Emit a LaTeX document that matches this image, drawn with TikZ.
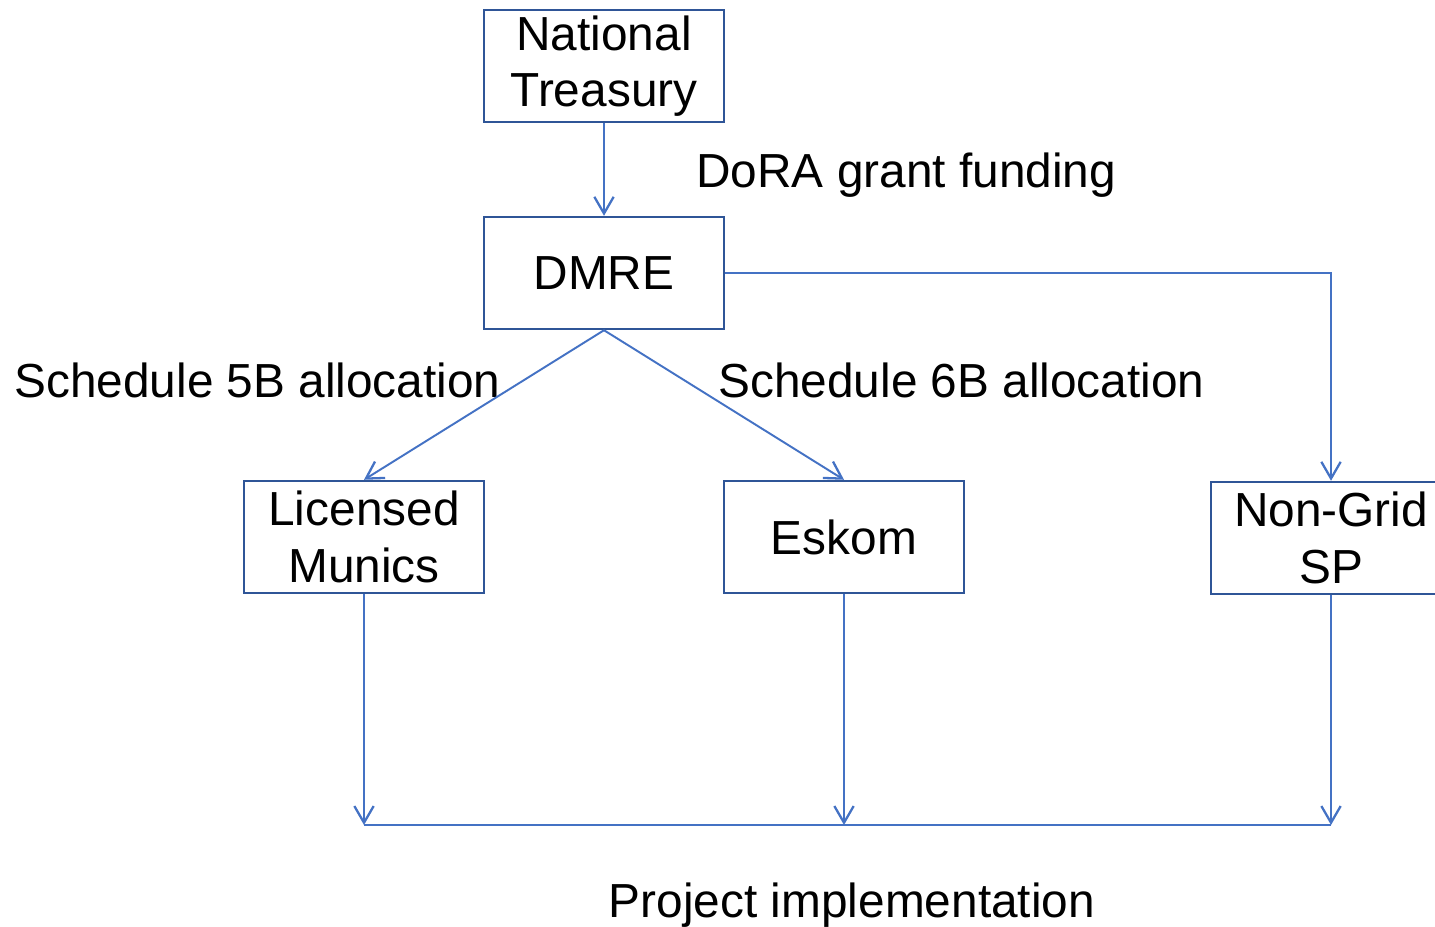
\documentclass[tikz,border=0pt]{standalone}
\usepackage{fontspec}
\setmainfont{Liberation Sans}
\usetikzlibrary{arrows.meta,positioning,calc}
\definecolor{boxblue}{HTML}{2F5597}
\definecolor{lineblue}{HTML}{4472C4}

\begin{document}
\begin{tikzpicture}[x=0.02cm,y=-0.02cm,
  box/.style={draw=boxblue,line width=1.4pt,minimum width=4.8cm,minimum height=2.24cm,inner sep=0pt,align=center,font=\fontsize{27.2}{32}\selectfont},
  lab/.style={inner sep=0pt,font=\fontsize{27.2}{32}\selectfont},
  flow/.style={draw=lineblue,line width=1.1pt,-{Straight Barb[length=9.5pt,width=11pt,line width=1.3pt]}}]
\useasboundingbox (0,0) rectangle (1435,926);
\node[box] (nt)      at (604,66)   {National\\Treasury};
\node[box] (dmre)    at (604,273)  {DMRE};
\node[box] (munics)  at (364,537)  {Licensed\\Munics};
\node[box] (eskom)   at (844,537)  {Eskom};
\node[box] (nongrid) at (1331,538) {Non-Grid\\SP};
\coordinate (corner) at (1331,273);
\coordinate (pm) at (364,825);
\coordinate (pe) at (844,825);
\coordinate (pn) at (1331,825);
\node[lab,anchor=base west] (dora)  at (696,187)  {DoRA grant funding};
\node[lab,anchor=base west] (s5b)   at (14,397)   {Schedule 5B allocation};
\node[lab,anchor=base west] (s6b)   at (718,397)  {Schedule 6B allocation};
\node[lab,anchor=base]      (proj)  at (852,917)  {Project implementation};
\draw[flow] (nt.south)--(dmre.north);
\draw[flow] (dmre.south)--(munics.north);
\draw[flow] (dmre.south)--(eskom.north);
\draw[flow] (dmre.east)--(corner)--(nongrid.north);
\draw[flow] (munics.south)--(pm);
\draw[flow] (eskom.south)--(pe);
\draw[flow] (nongrid.south)--(pn);
\draw[lineblue,line width=0.7pt] (pm)--(pn);
\end{tikzpicture}
\end{document}
